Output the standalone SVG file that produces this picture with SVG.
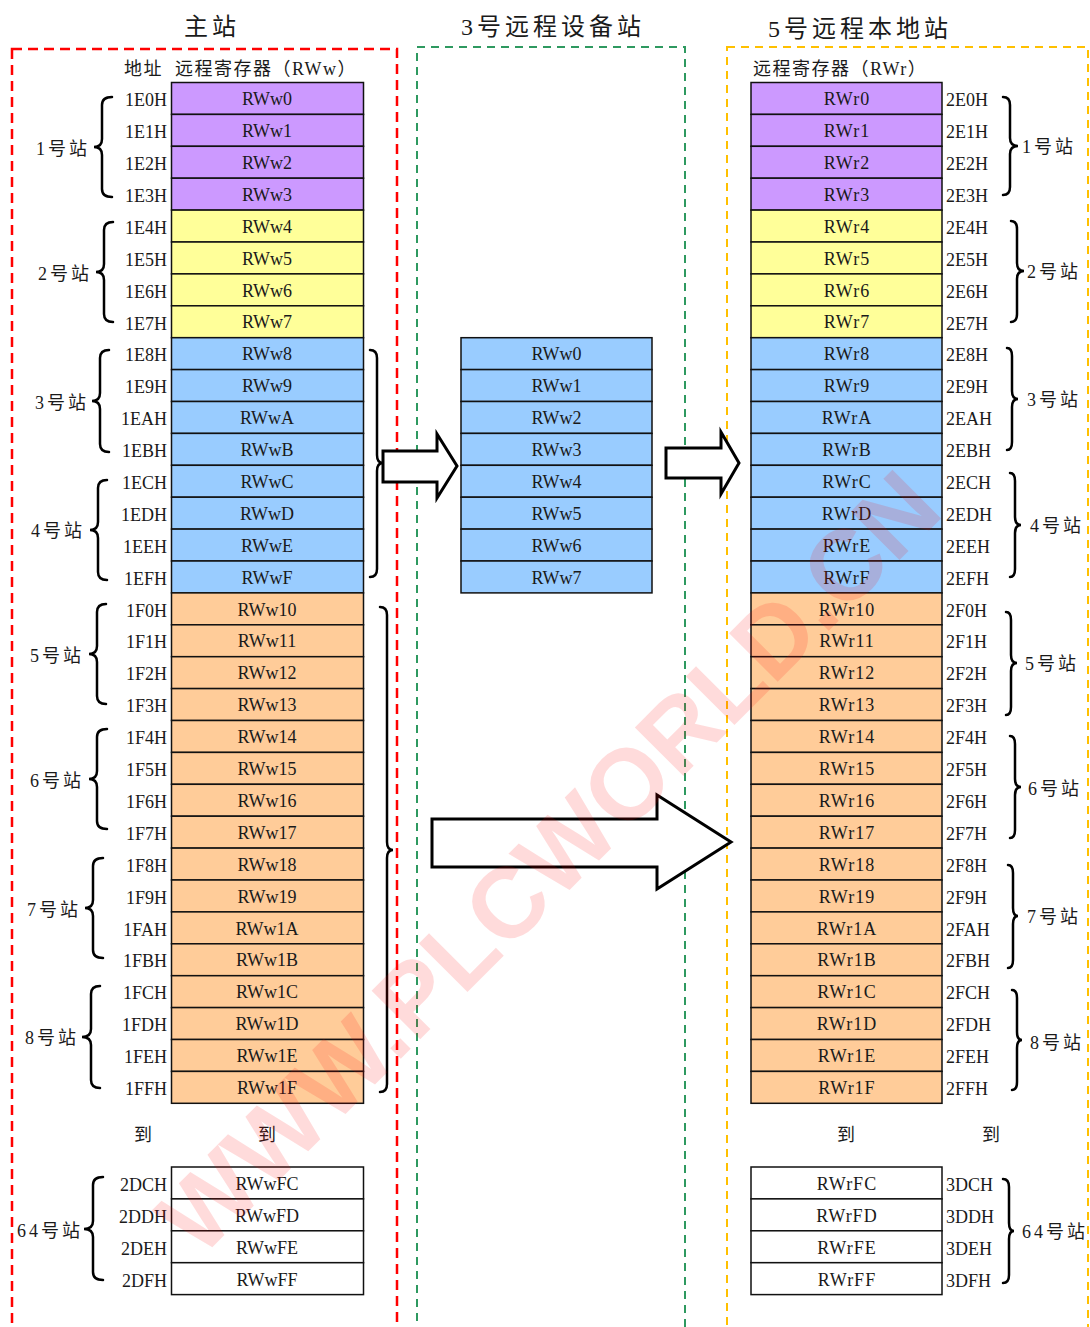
<svg xmlns="http://www.w3.org/2000/svg" width="1090" height="1327" viewBox="0 0 1090 1327">
<style>
.c{stroke:#111;stroke-width:1.5}
.p{fill:#CC99FF}.y{fill:#FFFF99}.b{fill:#99CCFF}.o{fill:#FFCC99}.w{fill:#FFFFFF}
text{font-family:"Liberation Serif","Noto Sans CJK SC",serif;fill:#1a1a1a}
.ct{font-size:18px;text-anchor:middle}
.cr{font-size:18px;text-anchor:middle;letter-spacing:1px}
.al{font-size:18px;text-anchor:end}
.ar{font-size:18px}
.st{font-size:18px;letter-spacing:3px}
.ti{font-size:24px;letter-spacing:4px;text-anchor:middle}
.hd{font-size:18px;letter-spacing:1.5px}
.br{fill:none;stroke:#000;stroke-width:2.5;stroke-linecap:round}
.arw{fill:#fff;stroke:#000;stroke-width:3;stroke-linejoin:miter}
</style>

<!-- dashed station frames -->
<g id="frames" fill="none">
<rect x="12" y="49" width="385" height="1300" stroke="#FF0000" stroke-width="2.5" stroke-dasharray="10 6"/>
<rect x="417" y="47" width="268" height="1300" stroke="#2E9960" stroke-width="2" stroke-dasharray="8 6"/>
<rect x="727" y="47" width="361" height="1300" stroke="#FFC000" stroke-width="2" stroke-dasharray="8 6"/>
</g>

<!-- titles -->
<g id="titles">
<text class="ti" x="212" y="35">主站</text>
<text class="ti" x="553" y="35">3号远程设备站</text>
<text class="ti" x="860" y="37">5号远程本地站</text>
<text class="hd" x="124" y="75">地址</text>
<text class="hd" x="175" y="75">远程寄存器（RWw）</text>
<text class="hd" x="753" y="75">远程寄存器（RWr）</text>
</g>

<!-- master station table -->
<g id="master">
<g class="c">
<rect class="p" x="171.5" y="82.5" width="192" height="31.9"/>
<rect class="p" x="171.5" y="114.4" width="192" height="31.9"/>
<rect class="p" x="171.5" y="146.3" width="192" height="31.9"/>
<rect class="p" x="171.5" y="178.2" width="192" height="31.9"/>
<rect class="y" x="171.5" y="210.1" width="192" height="31.9"/>
<rect class="y" x="171.5" y="242" width="192" height="31.9"/>
<rect class="y" x="171.5" y="273.9" width="192" height="31.9"/>
<rect class="y" x="171.5" y="305.8" width="192" height="31.9"/>
<rect class="b" x="171.5" y="337.7" width="192" height="31.9"/>
<rect class="b" x="171.5" y="369.6" width="192" height="31.9"/>
<rect class="b" x="171.5" y="401.5" width="192" height="31.9"/>
<rect class="b" x="171.5" y="433.4" width="192" height="31.9"/>
<rect class="b" x="171.5" y="465.3" width="192" height="31.9"/>
<rect class="b" x="171.5" y="497.2" width="192" height="31.9"/>
<rect class="b" x="171.5" y="529.1" width="192" height="31.9"/>
<rect class="b" x="171.5" y="561" width="192" height="31.9"/>
<rect class="o" x="171.5" y="592.9" width="192" height="31.9"/>
<rect class="o" x="171.5" y="624.8" width="192" height="31.9"/>
<rect class="o" x="171.5" y="656.7" width="192" height="31.9"/>
<rect class="o" x="171.5" y="688.6" width="192" height="31.9"/>
<rect class="o" x="171.5" y="720.5" width="192" height="31.9"/>
<rect class="o" x="171.5" y="752.4" width="192" height="31.9"/>
<rect class="o" x="171.5" y="784.3" width="192" height="31.9"/>
<rect class="o" x="171.5" y="816.2" width="192" height="31.9"/>
<rect class="o" x="171.5" y="848.1" width="192" height="31.9"/>
<rect class="o" x="171.5" y="880" width="192" height="31.9"/>
<rect class="o" x="171.5" y="911.9" width="192" height="31.9"/>
<rect class="o" x="171.5" y="943.8" width="192" height="31.9"/>
<rect class="o" x="171.5" y="975.7" width="192" height="31.9"/>
<rect class="o" x="171.5" y="1007.6" width="192" height="31.9"/>
<rect class="o" x="171.5" y="1039.5" width="192" height="31.9"/>
<rect class="o" x="171.5" y="1071.4" width="192" height="31.9"/>
<rect class="w" x="171.5" y="1167" width="192" height="31.9"/>
<rect class="w" x="171.5" y="1198.9" width="192" height="31.9"/>
<rect class="w" x="171.5" y="1230.8" width="192" height="31.9"/>
<rect class="w" x="171.5" y="1262.7" width="192" height="31.9"/>
</g>
<g class="ct">
<text x="267" y="105">RWw0</text><text x="267" y="137">RWw1</text><text x="267" y="169">RWw2</text><text x="267" y="201">RWw3</text>
<text x="267" y="233">RWw4</text><text x="267" y="265">RWw5</text><text x="267" y="297">RWw6</text><text x="267" y="328">RWw7</text>
<text x="267" y="360">RWw8</text><text x="267" y="392">RWw9</text><text x="267" y="424">RWwA</text><text x="267" y="456">RWwB</text>
<text x="267" y="488">RWwC</text><text x="267" y="520">RWwD</text><text x="267" y="552">RWwE</text><text x="267" y="584">RWwF</text>
<text x="267" y="616">RWw10</text><text x="267" y="647">RWw11</text><text x="267" y="679">RWw12</text><text x="267" y="711">RWw13</text>
<text x="267" y="743">RWw14</text><text x="267" y="775">RWw15</text><text x="267" y="807">RWw16</text><text x="267" y="839">RWw17</text>
<text x="267" y="871">RWw18</text><text x="267" y="903">RWw19</text><text x="267" y="935">RWw1A</text><text x="267" y="966">RWw1B</text>
<text x="267" y="998">RWw1C</text><text x="267" y="1030">RWw1D</text><text x="267" y="1062">RWw1E</text><text x="267" y="1094">RWw1F</text>
<text x="267" y="1190">RWwFC</text><text x="267" y="1222">RWwFD</text><text x="267" y="1254">RWwFE</text><text x="267" y="1286">RWwFF</text>
</g>
<g class="al">
<text x="167" y="106">1E0H</text><text x="167" y="138">1E1H</text><text x="167" y="170">1E2H</text><text x="167" y="202">1E3H</text>
<text x="167" y="234">1E4H</text><text x="167" y="266">1E5H</text><text x="167" y="298">1E6H</text><text x="167" y="330">1E7H</text>
<text x="167" y="361">1E8H</text><text x="167" y="393">1E9H</text><text x="167" y="425">1EAH</text><text x="167" y="457">1EBH</text>
<text x="167" y="489">1ECH</text><text x="167" y="521">1EDH</text><text x="167" y="553">1EEH</text><text x="167" y="585">1EFH</text>
<text x="167" y="617">1F0H</text><text x="167" y="648">1F1H</text><text x="167" y="680">1F2H</text><text x="167" y="712">1F3H</text>
<text x="167" y="744">1F4H</text><text x="167" y="776">1F5H</text><text x="167" y="808">1F6H</text><text x="167" y="840">1F7H</text>
<text x="167" y="872">1F8H</text><text x="167" y="904">1F9H</text><text x="167" y="936">1FAH</text><text x="167" y="967">1FBH</text>
<text x="167" y="999">1FCH</text><text x="167" y="1031">1FDH</text><text x="167" y="1063">1FEH</text><text x="167" y="1095">1FFH</text>
<text x="167" y="1191">2DCH</text><text x="167" y="1223">2DDH</text><text x="167" y="1255">2DEH</text><text x="167" y="1287">2DFH</text>
</g>
<text class="ar" x="134" y="1141">到</text>
<text class="ar" x="258" y="1141">到</text>
</g>

<!-- remote device station table -->
<g id="remote-device">
<g class="c">
<rect class="b" x="461" y="337.7" width="191" height="31.9"/>
<rect class="b" x="461" y="369.6" width="191" height="31.9"/>
<rect class="b" x="461" y="401.5" width="191" height="31.9"/>
<rect class="b" x="461" y="433.4" width="191" height="31.9"/>
<rect class="b" x="461" y="465.3" width="191" height="31.9"/>
<rect class="b" x="461" y="497.2" width="191" height="31.9"/>
<rect class="b" x="461" y="529.1" width="191" height="31.9"/>
<rect class="b" x="461" y="561" width="191" height="31.9"/>
</g>
<g class="ct">
<text x="556.5" y="360">RWw0</text><text x="556.5" y="392">RWw1</text><text x="556.5" y="424">RWw2</text><text x="556.5" y="456">RWw3</text>
<text x="556.5" y="488">RWw4</text><text x="556.5" y="520">RWw5</text><text x="556.5" y="552">RWw6</text><text x="556.5" y="584">RWw7</text>
</g>
</g>

<!-- remote local station table -->
<g id="local">
<g class="c">
<rect class="p" x="751" y="82.5" width="191" height="31.9"/>
<rect class="p" x="751" y="114.4" width="191" height="31.9"/>
<rect class="p" x="751" y="146.3" width="191" height="31.9"/>
<rect class="p" x="751" y="178.2" width="191" height="31.9"/>
<rect class="y" x="751" y="210.1" width="191" height="31.9"/>
<rect class="y" x="751" y="242" width="191" height="31.9"/>
<rect class="y" x="751" y="273.9" width="191" height="31.9"/>
<rect class="y" x="751" y="305.8" width="191" height="31.9"/>
<rect class="b" x="751" y="337.7" width="191" height="31.9"/>
<rect class="b" x="751" y="369.6" width="191" height="31.9"/>
<rect class="b" x="751" y="401.5" width="191" height="31.9"/>
<rect class="b" x="751" y="433.4" width="191" height="31.9"/>
<rect class="b" x="751" y="465.3" width="191" height="31.9"/>
<rect class="b" x="751" y="497.2" width="191" height="31.9"/>
<rect class="b" x="751" y="529.1" width="191" height="31.9"/>
<rect class="b" x="751" y="561" width="191" height="31.9"/>
<rect class="o" x="751" y="592.9" width="191" height="31.9"/>
<rect class="o" x="751" y="624.8" width="191" height="31.9"/>
<rect class="o" x="751" y="656.7" width="191" height="31.9"/>
<rect class="o" x="751" y="688.6" width="191" height="31.9"/>
<rect class="o" x="751" y="720.5" width="191" height="31.9"/>
<rect class="o" x="751" y="752.4" width="191" height="31.9"/>
<rect class="o" x="751" y="784.3" width="191" height="31.9"/>
<rect class="o" x="751" y="816.2" width="191" height="31.9"/>
<rect class="o" x="751" y="848.1" width="191" height="31.9"/>
<rect class="o" x="751" y="880" width="191" height="31.9"/>
<rect class="o" x="751" y="911.9" width="191" height="31.9"/>
<rect class="o" x="751" y="943.8" width="191" height="31.9"/>
<rect class="o" x="751" y="975.7" width="191" height="31.9"/>
<rect class="o" x="751" y="1007.6" width="191" height="31.9"/>
<rect class="o" x="751" y="1039.5" width="191" height="31.9"/>
<rect class="o" x="751" y="1071.4" width="191" height="31.9"/>
<rect class="w" x="751" y="1167" width="191" height="31.9"/>
<rect class="w" x="751" y="1198.9" width="191" height="31.9"/>
<rect class="w" x="751" y="1230.8" width="191" height="31.9"/>
<rect class="w" x="751" y="1262.7" width="191" height="31.9"/>
</g>
<g class="cr">
<text x="847" y="105">RWr0</text><text x="847" y="137">RWr1</text><text x="847" y="169">RWr2</text><text x="847" y="201">RWr3</text>
<text x="847" y="233">RWr4</text><text x="847" y="265">RWr5</text><text x="847" y="297">RWr6</text><text x="847" y="328">RWr7</text>
<text x="847" y="360">RWr8</text><text x="847" y="392">RWr9</text><text x="847" y="424">RWrA</text><text x="847" y="456">RWrB</text>
<text x="847" y="488">RWrC</text><text x="847" y="520">RWrD</text><text x="847" y="552">RWrE</text><text x="847" y="584">RWrF</text>
<text x="847" y="616">RWr10</text><text x="847" y="647">RWr11</text><text x="847" y="679">RWr12</text><text x="847" y="711">RWr13</text>
<text x="847" y="743">RWr14</text><text x="847" y="775">RWr15</text><text x="847" y="807">RWr16</text><text x="847" y="839">RWr17</text>
<text x="847" y="871">RWr18</text><text x="847" y="903">RWr19</text><text x="847" y="935">RWr1A</text><text x="847" y="966">RWr1B</text>
<text x="847" y="998">RWr1C</text><text x="847" y="1030">RWr1D</text><text x="847" y="1062">RWr1E</text><text x="847" y="1094">RWr1F</text>
<text x="847" y="1190">RWrFC</text><text x="847" y="1222">RWrFD</text><text x="847" y="1254">RWrFE</text><text x="847" y="1286">RWrFF</text>
</g>
<g class="ar">
<text x="946" y="106">2E0H</text><text x="946" y="138">2E1H</text><text x="946" y="170">2E2H</text><text x="946" y="202">2E3H</text>
<text x="946" y="234">2E4H</text><text x="946" y="266">2E5H</text><text x="946" y="298">2E6H</text><text x="946" y="330">2E7H</text>
<text x="946" y="361">2E8H</text><text x="946" y="393">2E9H</text><text x="946" y="425">2EAH</text><text x="946" y="457">2EBH</text>
<text x="946" y="489">2ECH</text><text x="946" y="521">2EDH</text><text x="946" y="553">2EEH</text><text x="946" y="585">2EFH</text>
<text x="946" y="617">2F0H</text><text x="946" y="648">2F1H</text><text x="946" y="680">2F2H</text><text x="946" y="712">2F3H</text>
<text x="946" y="744">2F4H</text><text x="946" y="776">2F5H</text><text x="946" y="808">2F6H</text><text x="946" y="840">2F7H</text>
<text x="946" y="872">2F8H</text><text x="946" y="904">2F9H</text><text x="946" y="936">2FAH</text><text x="946" y="967">2FBH</text>
<text x="946" y="999">2FCH</text><text x="946" y="1031">2FDH</text><text x="946" y="1063">2FEH</text><text x="946" y="1095">2FFH</text>
<text x="946" y="1191">3DCH</text><text x="946" y="1223">3DDH</text><text x="946" y="1255">3DEH</text><text x="946" y="1287">3DFH</text>
</g>
<text class="ar" x="837" y="1141">到</text>
<text class="ar" x="982" y="1141">到</text>
</g>

<!-- station braces and labels -->
<g id="braces">
<path class="br" d="M112,97 Q102,97 102,105 L102,139 Q102,147 94,147 Q102,147 102,155 L102,189 Q102,197 112,197"/>
<path class="br" d="M113,222 Q104,222 104,230 L104,264 Q104,272 96,272 Q104,272 104,280 L104,314 Q104,322 113,322"/>
<path class="br" d="M109,350 Q100,350 100,358 L100,393 Q100,401 92,401 Q100,401 100,409 L100,444 Q100,452 109,452"/>
<path class="br" d="M107,480 Q98,480 98,488 L98,522 Q98,530 90,530 Q98,530 98,538 L98,572 Q98,580 107,580"/>
<path class="br" d="M106,604 Q97,604 97,612 L97,646 Q97,654 89,654 Q97,654 97,662 L97,696 Q97,704 106,704"/>
<path class="br" d="M107,729 Q97,729 97,737 L97,771 Q97,779 89,779 Q97,779 97,787 L97,821 Q97,829 107,829"/>
<path class="br" d="M103,858 Q93,858 93,866 L93,900 Q93,908 85,908 Q93,908 93,916 L93,950 Q93,958 103,958"/>
<path class="br" d="M100,986 Q91,986 91,994 L91,1029 Q91,1037 82,1037 Q91,1037 91,1045 L91,1080 Q91,1088 100,1088"/>
<path class="br" d="M103,1177 Q93,1177 93,1185 L93,1221 Q93,1229 84,1229 Q93,1229 93,1237 L93,1272 Q93,1280 103,1280"/>
<path class="br" d="M370,350 Q377,350 377,358 L377,455 Q377,463 383,463 Q377,463 377,471 L377,569 Q377,577 370,577"/>
<path class="br" d="M380,607 Q387,607 387,615 L387,842 Q387,850 393,850 Q387,850 387,858 L387,1084 Q387,1092 380,1092"/>
<path class="br" d="M1003,97 Q1010,97 1010,105 L1010,138 Q1010,146 1018,146 Q1010,146 1010,154 L1010,187 Q1010,195 1003,195"/>
<path class="br" d="M1011,221 Q1017,221 1017,229 L1017,263 Q1017,271 1024,271 Q1017,271 1017,279 L1017,314 Q1017,322 1011,322"/>
<path class="br" d="M1007,348 Q1012,348 1012,356 L1012,391 Q1012,399 1018,399 Q1012,399 1012,407 L1012,442 Q1012,450 1007,450"/>
<path class="br" d="M1010,473 Q1015,473 1015,481 L1015,517 Q1015,525 1021,525 Q1015,525 1015,533 L1015,569 Q1015,577 1010,577"/>
<path class="br" d="M1006,612 Q1011,612 1011,620 L1011,655 Q1011,663 1017,663 Q1011,663 1011,671 L1011,707 Q1011,715 1006,715"/>
<path class="br" d="M1010,736 Q1015,736 1015,744 L1015,779 Q1015,787 1021,787 Q1015,787 1015,795 L1015,830 Q1015,838 1010,838"/>
<path class="br" d="M1008,865 Q1013,865 1013,873 L1013,908 Q1013,916 1018,916 Q1013,916 1013,924 L1013,960 Q1013,968 1008,968"/>
<path class="br" d="M1012,990 Q1017,990 1017,998 L1017,1032 Q1017,1040 1022,1040 Q1017,1040 1017,1048 L1017,1082 Q1017,1090 1012,1090"/>
<path class="br" d="M1003,1179 Q1009,1179 1009,1187 L1009,1223 Q1009,1231 1014,1231 Q1009,1231 1009,1239 L1009,1275 Q1009,1283 1003,1283"/>
<g class="st">
<text x="36" y="155">1号站</text>
<text x="38" y="280">2号站</text>
<text x="35" y="409">3号站</text>
<text x="31" y="537">4号站</text>
<text x="30" y="662">5号站</text>
<text x="30" y="787">6号站</text>
<text x="27" y="916">7号站</text>
<text x="25" y="1044">8号站</text>
<text x="17" y="1237">64号站</text>
<text x="1022" y="153">1号站</text>
<text x="1027" y="278">2号站</text>
<text x="1027" y="406">3号站</text>
<text x="1030" y="532">4号站</text>
<text x="1025" y="670">5号站</text>
<text x="1028" y="795">6号站</text>
<text x="1027" y="923">7号站</text>
<text x="1030" y="1049">8号站</text>
<text x="1022" y="1238">64号站</text>
</g>
</g>

<!-- connectors (block arrows) -->
<g id="connectors">
<polygon class="arw" points="383,451 437,451 437,434 457,466 437,498 437,482 383,482"/>
<polygon class="arw" points="666,448 721,448 721,432 739,463 721,494 721,478 666,478"/>
<polygon class="arw" points="432,819 657,819 657,795 731,842 657,889 657,867 432,867"/>
</g>

<!-- watermark -->
<g id="watermark">
<text x="548" y="862" transform="rotate(-45 548 862)" text-anchor="middle" dominant-baseline="central" style="font-family:'Liberation Sans',sans-serif;font-weight:bold;font-size:100px;fill:#FF0000;fill-opacity:0.14">WWW.PLCWORLD.CN</text>
</g>
</svg>
